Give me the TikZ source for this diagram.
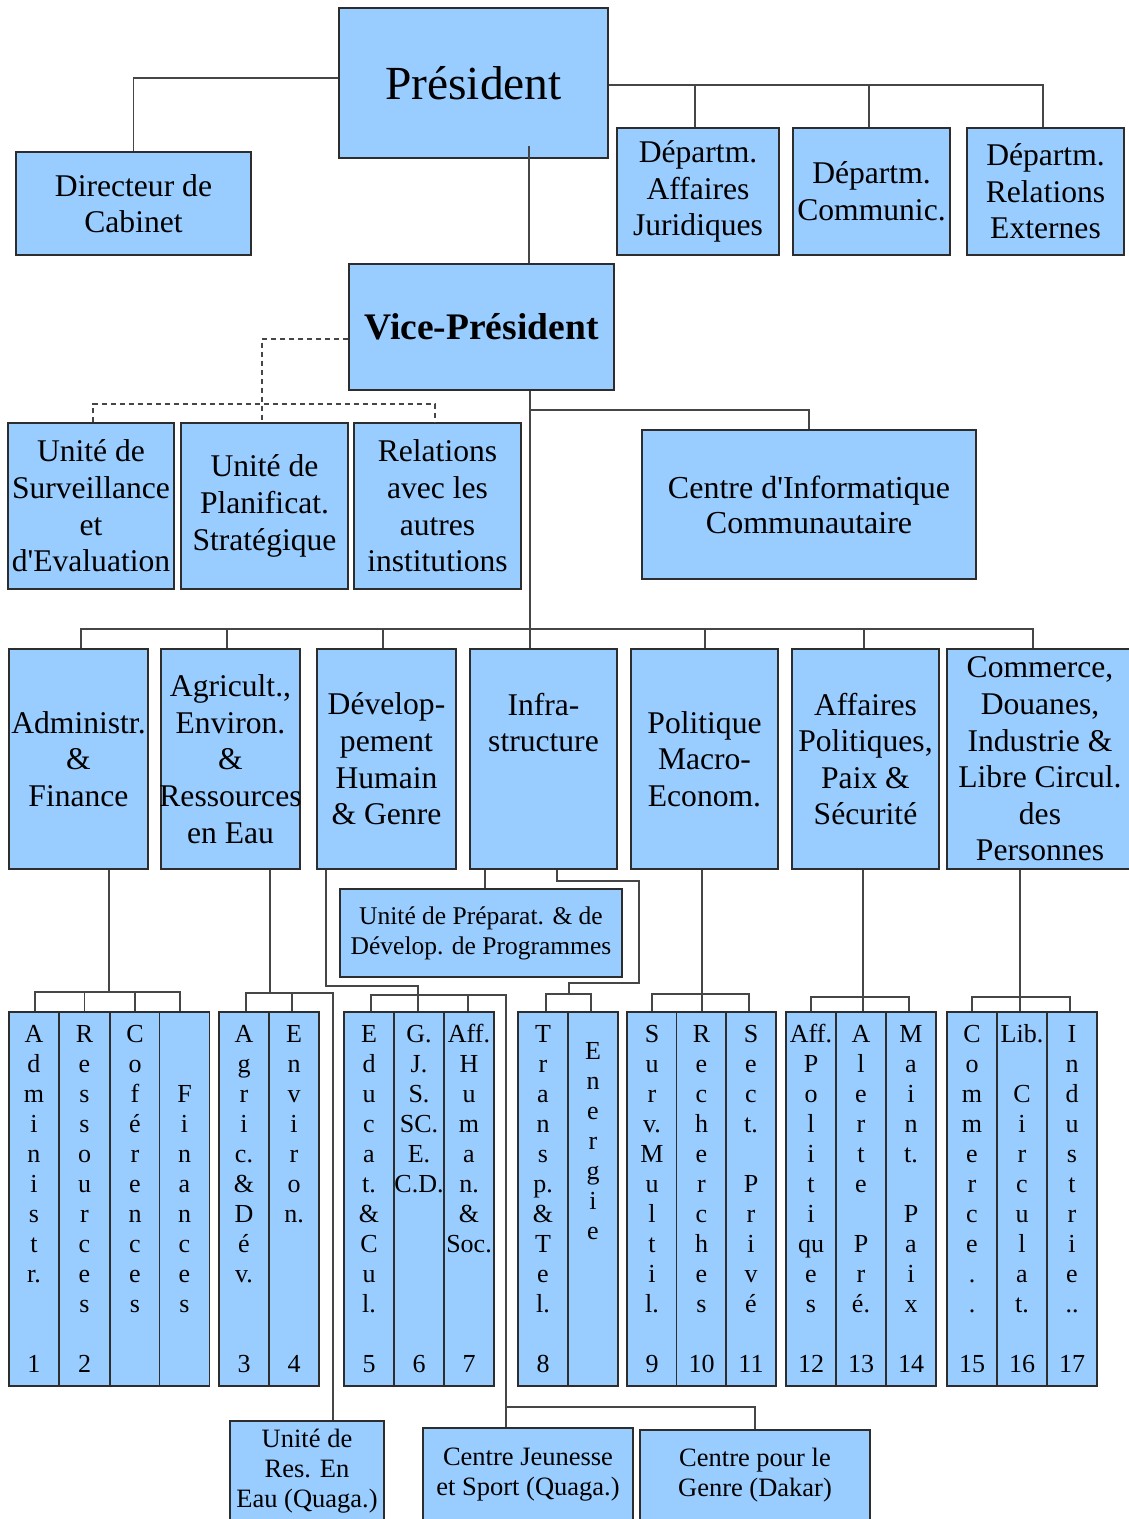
\documentclass[tikz,border=0pt]{standalone}
\usepackage{fontspec}
\setmainfont{Liberation Serif}
\usetikzlibrary{calc}
\definecolor{boxblue}{RGB}{153,204,255}
\definecolor{edge}{RGB}{45,45,45}
\definecolor{wire}{RGB}{70,70,70}

% letters stacked one per row, optional number at the foot of the column
\newcommand\stack[3][9pt]{\parbox[c][374pt][t]{50pt}{\centering\fontsize{26}{30}\selectfont
  \vspace*{#1}\strut#2\par\vfill\strut#3\par\vspace*{4.4pt}}}

\begin{document}
\begin{tikzpicture}[x=1pt,y=-1pt,
  box/.style={draw=edge, fill=boxblue, line width=1.3pt, inner sep=0pt, align=center,
    font=\fontsize{31.6}{36.6}\selectfont},
  small/.style={font=\fontsize{26.5}{30}\selectfont},
  colbox/.style={draw=edge, fill=boxblue, line width=1.3pt, inner sep=0pt,
    minimum width=50pt, minimum height=374pt},
  link/.style={draw=wire, line width=1.3pt},
  dlink/.style={link, dash pattern=on 5pt off 4pt}]

\fill[white] (0,0) rectangle (1128,1519);
\useasboundingbox (0,0) rectangle (1128,1519);

% --- top level
\node[box, minimum width=269, minimum height=150, font=\fontsize{47.5}{55}\selectfont]
  (pres) at (473.5,83) {Président};
\node[box, minimum width=235, minimum height=103] (dirc) at (133.5,203.5) {Directeur de\\Cabinet};
\node[box, minimum width=162, minimum height=127] (dj) at (698,191.5) {Départm.\\Affaires\\Juridiques};
\node[box, minimum width=157, minimum height=127] (dc) at (871.5,191.5) {Départm.\\Communic.};
\node[box, minimum width=157, minimum height=127] (dre) at (1045.5,191.5) {Départm.\\Relations\\Externes};

\node[box, minimum width=265, minimum height=126, font=\fontsize{37.5}{44}\selectfont\bfseries]
  (vp) at (481.5,327) {Vice-Président};

% --- staff units
\node[box, minimum width=166, minimum height=166] (use) at (91,506)
  {Unité de\\Surveillance\\et\\d\textquotesingle Evaluation};
\node[box, minimum width=167, minimum height=166] (ups) at (264.5,506)
  {Unité de\\Planificat.\\Stratégique};
\node[box, minimum width=167, minimum height=166] (rai) at (437.5,506)
  {Relations\\avec les\\autres\\institutions};
\node[box, minimum width=334, minimum height=149, font=\fontsize{32}{35}\selectfont] (cic) at (809,504.5)
  {Centre d\textquotesingle Informatique\\Communautaire};

% --- departments
\node[box, minimum width=139, minimum height=220] (d1) at (78.5,759) {Administr.\\\&\\Finance};
\node[box, minimum width=139, minimum height=220] (d2) at (230.5,759)
  {Agricult.,\\Environ.\\\&\\\makebox[130pt]{Ressources}\\en Eau};
\node[box, minimum width=139, minimum height=220] (d3) at (386.5,759)
  {Dévelop-\\pement\\Humain\\\& Genre};
\node[box, minimum width=147, minimum height=220] (d4) at (543.5,759)
  {Infra-\\structure\\~\\~};
\node[box, minimum width=147, minimum height=220] (d5) at (704.5,759)
  {Politique\\Macro-\\Econom.};
\node[box, minimum width=147, minimum height=220] (d6) at (865.5,759)
  {Affaires\\Politiques,\\Paix \&\\Sécurité};
\node[box, minimum width=186, minimum height=220] (d7) at (1040,759)
  {Commerce,\\Douanes,\\Industrie \&\\Libre Circul.\\des\\Personnes};

\node[box, minimum width=282, minimum height=88, font=\fontsize{25.5}{30}\selectfont] (upp) at (481,933)
  {Unité de Préparat. \& de\\Dévelop. de Programmes};

% --- divisions
\node[colbox] (a1) at (34,1199)   {\stack{A\\d\\m\\i\\n\\i\\s\\t\\r.}{1}};
\node[colbox] (a2) at (84.5,1199) {\stack{R\\e\\s\\s\\o\\u\\r\\c\\e\\s}{2}};
\node[colbox] (a3) at (135,1199)  {\stack{C\\o\\f\\é\\r\\e\\n\\c\\e\\s}{}};
\node[colbox] (a4) at (184.5,1199){\stack{\\\strut\\F\\i\\n\\a\\n\\c\\e\\s}{}};

\node[colbox] (g1) at (244,1199) {\stack{A\\g\\r\\i\\c.\\\&\\D\\é\\v.}{3}};
\node[colbox] (g2) at (294,1199) {\stack{E\\n\\v\\i\\r\\o\\n.}{4}};

\node[colbox] (e1) at (369,1199) {\stack{E\\d\\u\\c\\a\\t.\\\&\\C\\u\\l.}{5}};
\node[colbox] (e2) at (419,1199) {\stack{G.\\J.\\S.\\SC.\\E.\\C.D.}{6}};
\node[colbox] (e3) at (469,1199) {\stack{Aff.\\H\\u\\m\\a\\n.\\\&\\Soc.}{7}};

\node[colbox] (f1) at (543,1199) {\stack{T\\r\\a\\n\\s\\p.\\\&\\T\\e\\l.}{8}};
\node[colbox] (f2) at (593,1199) {\stack[26pt]{E\\n\\e\\r\\g\\i\\e}{}};

\node[colbox] (p1) at (652,1199)   {\stack{S\\u\\r\\v.\\M\\u\\l\\t\\i\\l.}{9}};
\node[colbox] (p2) at (701.5,1199) {\stack{R\\e\\c\\h\\e\\r\\c\\h\\e\\s}{10}};
\node[colbox] (p3) at (751,1199)   {\stack{S\\e\\c\\t.\\\strut\\P\\r\\i\\v\\é}{11}};

\node[colbox] (q1) at (811,1199) {\stack{Aff.\\P\\o\\l\\i\\t\\i\\qu\\e\\s}{12}};
\node[colbox] (q2) at (861,1199) {\stack{A\\l\\e\\r\\t\\e\\\strut\\P\\r\\é.}{13}};
\node[colbox] (q3) at (911,1199) {\stack{M\\a\\i\\n\\t.\\\strut\\P\\a\\i\\x}{14}};

\node[colbox] (r1) at (972,1199)  {\stack{C\\o\\m\\m\\e\\r\\c\\e\\.\\.}{15}};
\node[colbox] (r2) at (1022,1199) {\stack{Lib.\\\strut\\C\\i\\r\\c\\u\\l\\a\\t.}{16}};
\node[colbox] (r3) at (1072,1199) {\stack{I\\n\\d\\u\\s\\t\\r\\i\\e\\..}{17}};

% --- decentralised centres
\node[box, small, minimum width=154, minimum height=100] (ure) at (307,1471)
  {Unité de\\Res. En\\Eau (Quaga.)};
\node[box, small, minimum width=210, minimum height=94] (cjs) at (528,1475)
  {Centre Jeunesse\\et Sport (Quaga.)};
\node[box, small, minimum width=230, minimum height=90] (cpg) at (755,1475)
  {Centre pour le\\Genre (Dakar)};

% --- connectors: presidency
\draw[link] ([yshift=5pt]pres.west) -| (dirc.north);
\coordinate (pbus) at (608,85);
\draw[link] (pres.east |- pbus) -| ([xshift=-2.5pt]dre.north);
\draw[link] ([xshift=-3pt]dj.north) -- ([xshift=-3pt]dj.north |- pbus);
\draw[link] ([xshift=-2.5pt]dc.north) -- ([xshift=-2.5pt]dc.north |- pbus);
\coordinate (pin) at (529,146);
\draw[link] (pin) -- (pin |- vp.north);

% staff units (dashed)
\coordinate (sbus) at (262,404);
\draw[dlink] ([yshift=-12pt]vp.west) -| ([xshift=-2.5pt]ups.north);
\draw[dlink] ([xshift=2pt]use.north) |- (sbus) -| ([xshift=-2.5pt]rai.north);

% vice-presidency stem
\coordinate (stem) at (530,410);
\draw[link] (vp.south -| stem) -- (d4.north -| stem);
\draw[link] (stem) -| (cic.north);

\coordinate (dbus) at (530,629);
\draw[link] ([xshift=2.5pt]d1.north) |- ([xshift=-7pt]d7.north |- dbus) -- ([xshift=-7pt]d7.north);
\foreach \n/\dx in {d2/-3.5, d3/-3.5, d5/0.5, d6/-1.5}
  \draw[link] ([xshift=\dx pt]\n.north) -- ([xshift=\dx pt]\n.north |- dbus);

% administration
\coordinate (abus) at (109,992);
\draw[link] (d1.south -| abus) -- (abus);
\draw[link] ([xshift=1pt]a1.north) |- ([xshift=-4.5pt]a4.north |- abus) -- ([xshift=-4.5pt]a4.north);
\draw[link] (a2.north) -- (a2.north |- abus);
\draw[link] (a3.north) -- (a3.north |- abus);

% agriculture
\coordinate (gbus) at (270,993);
\coordinate (gr) at (333,993);
\draw[link] (d2.south -| gbus) -- (gbus);
\draw[link] ([xshift=2pt]g1.north) |- (gr) -- (gr |- ure.north);
\draw[link] ([xshift=-2pt]g2.north) -- ([xshift=-2pt]g2.north |- gbus);

% human development
\coordinate (dv) at (326,986);
\draw[link] (d3.south -| dv) -- (dv) -| ([xshift=-1pt]e2.north);
\coordinate (ebus) at (506,995);
\coordinate (cbus) at (506,1407);
\draw[link] ([xshift=2pt]e1.north) |- (ebus) -- (cbus) -| (cpg.north);
\draw[link] (cbus) -- (cbus |- cjs.north);
\draw[link] ([xshift=-1pt]e3.north) -- ([xshift=-1pt]e3.north |- ebus);

% infrastructure
\coordinate (iu) at (485,880);
\draw[link] (d4.south -| iu) -- (upp.north -| iu);
\coordinate (ia) at (557,881);
\coordinate (ib) at (639,983);
\coordinate (ic) at (569,994);
\draw[link] (d4.south -| ia) -- (ia) -| (ib) -| (ic);
\draw[link] ([xshift=3pt]f1.north) |- ([xshift=-2pt]f2.north |- ic) -- ([xshift=-2pt]f2.north);

% macro-economic policy
\coordinate (pb) at (702,994);
\draw[link] (d5.south -| pb) -- (p2.north -| pb);
\draw[link] (p1.north) |- ([xshift=-2pt]p3.north |- pb) -- ([xshift=-2pt]p3.north);

% political affairs
\coordinate (qb) at (863,997);
\draw[link] (d6.south -| qb) -- (q2.north -| qb);
\draw[link] (q1.north) |- ([xshift=-2pt]q3.north |- qb) -- ([xshift=-2pt]q3.north);

% trade and customs
\coordinate (rb) at (1020,997);
\draw[link] (d7.south -| rb) -- (r2.north -| rb);
\draw[link] (r1.north) |- ([xshift=-2pt]r3.north |- rb) -- ([xshift=-2pt]r3.north);

\end{tikzpicture}
\end{document}
